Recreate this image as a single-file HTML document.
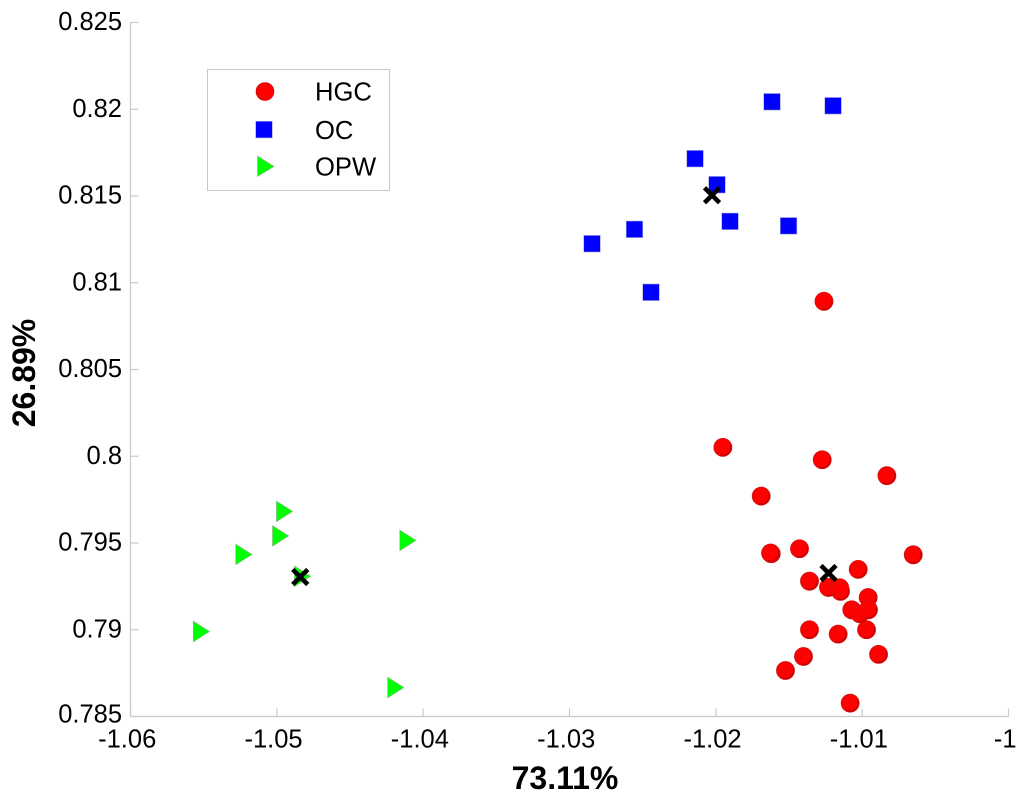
<!DOCTYPE html>
<html lang="en">
<head>
<meta charset="utf-8">
<title>Scatter chart</title>
<style>
html,body{margin:0;padding:0;background:#fff;}
svg{display:block;font-family:"Liberation Sans",Arial,sans-serif;}
</style>
</head>
<body>
<svg id="chart" width="1024" height="801" viewBox="0 0 1024 801" xmlns="http://www.w3.org/2000/svg">
  <text x="565" y="789" font-size="32" font-weight="bold" text-anchor="middle" fill="#000">73.11%</text>
  <text transform="translate(35,373) rotate(-90)" font-size="32" font-weight="bold" text-anchor="middle" fill="#000">26.89%</text>
  <g id="axes"></g>
  <g id="marks"></g>
  <g>
    <rect x="207.5" y="69.5" width="182" height="121" fill="#fff" stroke="#c8c8c8" stroke-width="1"/>
    <g>
      <circle cx="265" cy="91.5" r="8.8" fill="#f00" stroke="#d80a0a" stroke-width="1"/>
      <text x="315" y="100.5" font-size="25.6" fill="#000">HGC</text>
    </g>
    <g>
      <rect x="255.7" y="121.3" width="16.6" height="16.6" fill="#00f" stroke="#a0a0e0" stroke-width="0.6"/>
      <text x="315" y="139" font-size="25.6" fill="#000">OC</text>
    </g>
    <g>
      <polygon points="257.5,156 274,166.5 257.5,176.5" fill="#0f0" stroke="#90b090" stroke-width="0.6"/>
      <text x="315" y="175.7" font-size="25.6" fill="#000">OPW</text>
    </g>
  </g>
</svg>
<script>
const xTicks = [-1.06, -1.05, -1.04, -1.03, -1.02, -1.01, -1];
const xTickLabels = ["-1.06", "-1.05", "-1.04", "-1.03", "-1.02", "-1.01", "-1"];
const yTicks = [0.785, 0.79, 0.795, 0.8, 0.805, 0.81, 0.815, 0.82, 0.825];
const yTickLabels = ["0.785", "0.79", "0.795", "0.8", "0.805", "0.81", "0.815", "0.82", "0.825"];

const hgcX = [-1.01952, -1.01273, -1.00831, -1.01690, -1.01621, -1.01626, -1.01428, -1.00651, -1.01027, -1.01360, -1.01230, -1.01153, -1.01148, -1.00959, -1.01071, -1.01016, -1.00957, -1.00970, -1.01360, -1.01164, -1.00888, -1.01401, -1.01524, -1.01082, -1.01261];
const hgcY = [0.80051, 0.79980, 0.79888, 0.79770, 0.79438, 0.79442, 0.79467, 0.79432, 0.79348, 0.79280, 0.79244, 0.79242, 0.79221, 0.79186, 0.79115, 0.79092, 0.79115, 0.79000, 0.79000, 0.78975, 0.78858, 0.78846, 0.78765, 0.78577, 0.80893];

const ocX = [-1.01616, -1.01199, -1.02142, -1.01992, -1.01903, -1.01503, -1.02846, -1.02556, -1.02443];
const ocY = [0.82043, 0.82020, 0.81715, 0.81565, 0.81354, 0.81328, 0.81225, 0.81308, 0.80945];

const opwX = [-1.04948, -1.04975, -1.05226, -1.04105, -1.05516, -1.04188, -1.04825];
const opwY = [0.79682, 0.79541, 0.79434, 0.79515, 0.78990, 0.78667, 0.79308];

const centroidX = [-1.02026, -1.01230, -1.04840];
const centroidY = [0.81504, 0.79327, 0.79304];

const SVG_NS = "http://www.w3.org/2000/svg";
const X_MIN = -1.06, X_MAX = -1, Y_MIN = 0.785, Y_MAX = 0.825;
const LEFT = 130.5, RIGHT = 1008.5, BOTTOM = 716.5, TOP = 22.5;

function xScale(v) { return LEFT + (v - X_MIN) / (X_MAX - X_MIN) * (RIGHT - LEFT); }
function yScale(v) { return BOTTOM - (v - Y_MIN) / (Y_MAX - Y_MIN) * (BOTTOM - TOP); }
function make(tag, attrs) {
  const el = document.createElementNS(SVG_NS, tag);
  for (const k in attrs) el.setAttribute(k, attrs[k]);
  return el;
}

const axes = document.getElementById("axes");
const marks = document.getElementById("marks");
const AXIS = { stroke: "#c8c8c8", "stroke-width": 1.2 };

const xAxisLine = make("line", Object.assign({ x1: LEFT, x2: RIGHT, y1: BOTTOM, y2: BOTTOM }, AXIS));


axes.appendChild(xAxisLine);

const yAxisLine = make("line", Object.assign({ x1: LEFT, x2: LEFT, y1: TOP, y2: BOTTOM }, AXIS));


axes.appendChild(yAxisLine);

xTicks.forEach(function (t, i) {
  const px = xScale(t);
  const tick = make("line", Object.assign({ x1: px, x2: px, y1: BOTTOM, y2: BOTTOM - 8 }, AXIS));
  
  
  axes.appendChild(tick);
  const label = make("text", { x: px - 3.3, y: 747.5, "font-size": 25.5, "text-anchor": "middle", fill: "#000" });
  
  
  label.textContent = xTickLabels[i];
  axes.appendChild(label);
});

yTicks.forEach(function (t, i) {
  const py = yScale(t);
  const tick = make("line", Object.assign({ x1: LEFT, x2: LEFT + 8, y1: py, y2: py }, AXIS));
  
  
  axes.appendChild(tick);
  const label = make("text", { x: 122, y: i === 0 ? py + 6 : py + 7.5, "font-size": 25.5, "text-anchor": "end", fill: "#000" });
  
  
  label.textContent = yTickLabels[i];
  axes.appendChild(label);
});

hgcX.forEach(function (v, i) {
  const cx = xScale(v), cy = yScale(hgcY[i]);
  const g = make("g", {});
  
  
  g.appendChild(make("circle", { cx: cx, cy: cy, r: 8.9, fill: "#f00", stroke: "#d81010", "stroke-width": 1 }));
  g.appendChild(make("path", { d: "M " + (cx + 7.4) + " " + (cy - 2.6) + " A 7.8 7.8 0 0 1 " + (cx - 2.6) + " " + (cy + 7.4), fill: "none", stroke: "#b00000", "stroke-width": 0.9 }));
  marks.appendChild(g);
});

ocX.forEach(function (v, i) {
  const cx = xScale(v), cy = yScale(ocY[i]);
  const sq = make("rect", { x: cx - 8.3, y: cy - 8.3, width: 16.6, height: 16.6, fill: "#00f", stroke: "#a8a8e0", "stroke-width": 0.6 });
  
  
  marks.appendChild(sq);
});

opwX.forEach(function (v, i) {
  const cx = xScale(v), cy = yScale(opwY[i]);
  const tri = make("polygon", { points: (cx - 8) + "," + (cy - 10.3) + " " + (cx + 8.2) + "," + cy + " " + (cx - 8) + "," + (cy + 10.3), fill: "#0f0", stroke: "#90b090", "stroke-width": 0.6 });
  
  
  marks.appendChild(tri);
});

centroidX.forEach(function (v, i) {
  const cx = xScale(v), cy = yScale(centroidY[i]);
  const c = make("path", { d: "M " + (cx - 7.5) + " " + (cy - 7.5) + " L " + (cx + 7.5) + " " + (cy + 7.5) + " M " + (cx + 7.5) + " " + (cy - 7.5) + " L " + (cx - 7.5) + " " + (cy + 7.5), fill: "none", stroke: "#000", "stroke-width": 4.6 });
  
  
  marks.appendChild(c);
});
</script>
</body>
</html>
